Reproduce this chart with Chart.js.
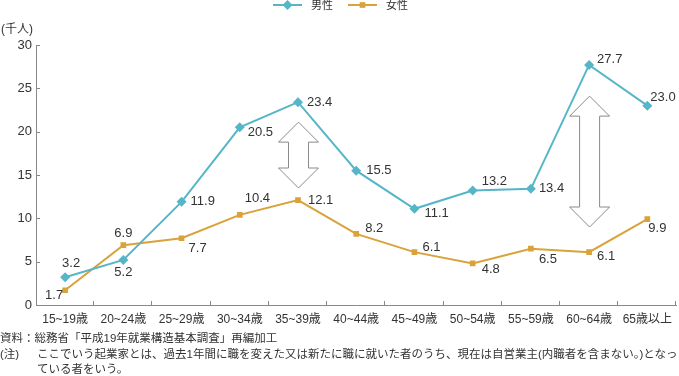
<!DOCTYPE html>
<html>
<head>
<meta charset="utf-8">
<script src="https://cdn.jsdelivr.net/npm/chart.js@4.4.1/dist/chart.umd.min.js"></script>
<style>
    body { margin: 0; background: #fff; }
    #wrap { position: relative; width: 679px; height: 376px; color: #333;
        font-family: "Liberation Sans", "Noto Sans CJK JP", sans-serif; }
    #chart { position: absolute; left: 0; top: 0; }
    .note { position: absolute; left: 0; font-size: 11.5px; line-height: 15px; white-space: nowrap; }
</style>
</head>
<body>
<div id="wrap">
    <canvas id="chart" width="679" height="376"></canvas>
    <div class="note" style="top:331px">資料：総務省「平成19年就業構造基本調査」再編加工</div>
    <div class="note" style="top:347px">(注)</div>
    <div class="note" style="top:347px;left:37px">ここでいう起業家とは、過去1年間に職を変えた又は新たに職に就いた者のうち、現在は自営業主(内職者を含まない。)となっ</div>
    <div class="note" style="top:362px;left:37px">ている者をいう。</div>
</div>
<script>
const categories = ['15~19歳', '20~24歳', '25~29歳', '30~34歳', '35~39歳', '40~44歳',
    '45~49歳', '50~54歳', '55~59歳', '60~64歳', '65歳以上'];
const male = [3.2, 5.2, 11.9, 20.5, 23.4, 15.5, 11.1, 13.2, 13.4, 27.7, 23.0];
const female = [1.7, 6.9, 7.7, 10.4, 12.1, 8.2, 6.1, 4.8, 6.5, 6.1, 9.9];
const yTicks = [0, 5, 10, 15, 20, 25, 30];

// gap arrows: category index, value at top tip, value at bottom tip
const arrowCats = [4, 9];
const arrowTop = [21.1, 24.1];
const arrowBottom = [13.5, 9.0];

const BLUE = '#56b6c8';
const ORANGE = '#d9a23a';
const TEXT = '#333';
const FONT = '"Liberation Sans", "Noto Sans CJK JP", sans-serif';

// label offsets [dx, dy, align] per point
const maleLabelPos = [[6, -14, 'center'], [0, 12, 'center'], [9, 0, 'left'], [8, 5, 'left'],
    [9, 0, 'left'], [10, 0, 'left'], [10, 5, 'left'], [9, -9, 'left'], [8, 0, 'left'],
    [8, -6, 'left'], [3, -8, 'left']];
const femaleLabelPos = [[-2, 5, 'right'], [0, -12, 'center'], [7, 10, 'left'], [5, -16, 'left'],
    [10, 0, 'left'], [9, -6, 'left'], [8, -5, 'left'], [9, 6, 'left'], [8, 11, 'left'],
    [8, 4, 'left'], [1, 9, 'left']];

const extras = {
    id: 'extras',
    afterDraw(chart) {
        const {ctx, chartArea: a, scales: {x, y}} = chart;
        ctx.save();
        // inward ticks
        ctx.strokeStyle = '#888';
        ctx.lineWidth = 1;
        ctx.beginPath();
        yTicks.forEach(v => {
            const py = Math.round(y.getPixelForValue(v)) + 0.5;
            ctx.moveTo(a.left, py);
            ctx.lineTo(a.left + 4, py);
        });
        const w = (a.right - a.left) / categories.length;
        for (let i = 1; i <= categories.length; i++) {
            const px = Math.round(a.left + i * w) - 0.5;
            ctx.moveTo(px, a.bottom);
            ctx.lineTo(px, a.bottom - 4);
        }
        ctx.stroke();

        // arrows
        ctx.fillStyle = '#fff';
        ctx.strokeStyle = '#8a8a8a';
        arrowCats.forEach((c, i) => {
            const cx = x.getPixelForValue(c) + 0.5;
            const t = y.getPixelForValue(arrowTop[i]);
            const b = y.getPixelForValue(arrowBottom[i]);
            const hw = 20, sw = 10, hl = 20;
            ctx.beginPath();
            ctx.moveTo(cx, t);
            ctx.lineTo(cx + hw, t + hl);
            ctx.lineTo(cx + sw, t + hl);
            ctx.lineTo(cx + sw, b - hl);
            ctx.lineTo(cx + hw, b - hl);
            ctx.lineTo(cx, b);
            ctx.lineTo(cx - hw, b - hl);
            ctx.lineTo(cx - sw, b - hl);
            ctx.lineTo(cx - sw, t + hl);
            ctx.lineTo(cx - hw, t + hl);
            ctx.closePath();
            ctx.fill();
            ctx.stroke();
        });

        // value labels
        ctx.fillStyle = TEXT;
        ctx.font = '13px ' + FONT;
        ctx.textBaseline = 'middle';
        [[0, male, maleLabelPos], [1, female, femaleLabelPos]].forEach(([di, vals, pos]) => {
            const meta = chart.getDatasetMeta(di);
            meta.data.forEach((pt, i) => {
                ctx.textAlign = pos[i][2];
                ctx.fillText(vals[i].toFixed(1), pt.x + pos[i][0], pt.y + pos[i][1]);
            });
        });

        // axis unit
        ctx.font = '12px ' + FONT;
        ctx.textAlign = 'left';
        ctx.fillText('(千人)', 1, 30);

        // legend
        const items = [[273, '男性', BLUE, 'rectRot', 5], [348, '女性', ORANGE, 'rect', 4]];
        items.forEach(([lx, txt, col, style, r]) => {
            ctx.strokeStyle = col;
            ctx.fillStyle = col;
            ctx.lineWidth = 2;
            ctx.beginPath();
            ctx.moveTo(lx, 5);
            ctx.lineTo(lx + 29, 5);
            ctx.stroke();
            Chart.helpers.drawPoint(ctx, {pointStyle: style, radius: r, borderWidth: 0}, lx + 14.5, 5);
            ctx.fillStyle = TEXT;
            ctx.font = '11px ' + FONT;
            ctx.fillText(txt, lx + 38, 6);
        });
        ctx.restore();
    }
};

new Chart(document.getElementById('chart'), {
    type: 'line',
    data: {
        labels: categories,
        datasets: [
            {label: '男性', data: male, borderColor: BLUE, backgroundColor: BLUE, borderWidth: 2,
                pointStyle: 'rectRot', pointRadius: 5, pointBorderWidth: 0, tension: 0},
            {label: '女性', data: female, borderColor: ORANGE, backgroundColor: ORANGE, borderWidth: 2,
                pointStyle: 'rect', pointRadius: 4, pointBorderWidth: 0, tension: 0}
        ]
    },
    options: {
        responsive: false,
        animation: false,
        devicePixelRatio: 1,
        layout: {autoPadding: false, padding: {top: 45, left: 0, right: 0, bottom: 0}},
        plugins: {legend: {display: false}, tooltip: {enabled: false}},
        scales: {
            x: {
                offset: true,
                grid: {display: true, drawOnChartArea: false, drawTicks: false},
                border: {color: '#888', width: 1},
                ticks: {color: TEXT, font: {size: 12, family: FONT}, padding: 7, maxRotation: 0, autoSkip: false},
                afterFit(s) { s.height = 71; }
            },
            y: {
                min: 0, max: 30,
                grid: {display: true, drawOnChartArea: false, drawTicks: false},
                border: {color: '#888', width: 1},
                ticks: {stepSize: 5, color: TEXT, font: {size: 13, family: FONT}, padding: 4},
                afterFit(s) { s.width = 36; }
            }
        }
    },
    plugins: [extras]
});
</script>
</body>
</html>
